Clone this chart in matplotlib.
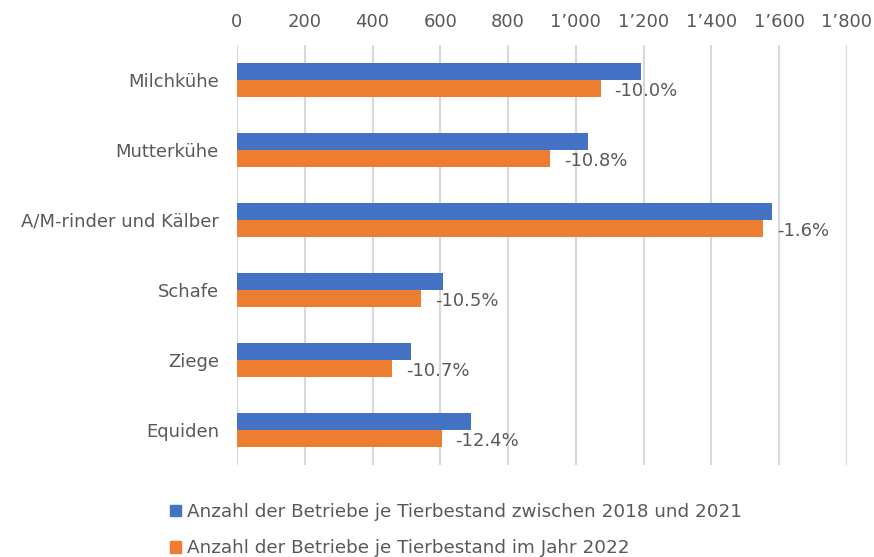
import matplotlib.pyplot as plt
from matplotlib.patches import Patch
from matplotlib.ticker import FuncFormatter
import numpy as np

kategorien = ["Milchkühe", "Mutterkühe", "A/M-rinder und Kälber", "Schafe", "Ziege", "Equiden"]
betriebe_2018_2021 = [1192, 1036, 1579, 608, 513, 690]
betriebe_2022 = [1073, 924, 1553, 544, 458, 604]
veraenderung = ["-10.0%", "-10.8%", "-1.6%", "-10.5%", "-10.7%", "-12.4%"]
x_ticks = [0, 200, 400, 600, 800, 1000, 1200, 1400, 1600, 1800]

blau = "#4472C4"
orange = "#ED7D31"
grau = "#595959"

plt.rcParams['font.family'] = ['DejaVu Sans']

fig = plt.figure(figsize=(8.74, 5.57), dpi=100)
ax = fig.add_axes([237 / 874, 1 - 465 / 557, 610 / 874, 420 / 557])

y = np.arange(len(kategorien))
h = 0.245
ax.barh(y - h / 2, betriebe_2018_2021, height=h, color=blau, zorder=3)
ax.barh(y + h / 2, betriebe_2022, height=h, color=orange, zorder=3)

# Veränderung neben dem orangen Balken
for i, wert in enumerate(betriebe_2022):
    ax.annotate(veraenderung[i], (wert, y[i] + h / 2), xytext=(10, -2),
                textcoords="offset points", va="center", ha="left",
                fontsize=13, color=grau)

ax.set_xlim(0, 1800)
ax.set_ylim(len(kategorien) - 0.5, -0.5)
ax.set_xticks(x_ticks)
ax.xaxis.set_major_formatter(FuncFormatter(lambda v, p: f"{int(v):,}".replace(",", "\u2019")))
ax.xaxis.tick_top()
ax.set_yticks(y)
ax.set_yticklabels(kategorien)
ax.tick_params(axis="x", length=0, pad=10, labelsize=13, labelcolor=grau)
ax.tick_params(axis="y", length=0, pad=13, labelsize=13, labelcolor=grau)
ax.grid(axis="x", color="#D9D9D9", linewidth=1.5, zorder=0)
for s in ax.spines.values():
    s.set_visible(False)

handles = [Patch(color=blau), Patch(color=orange)]
labels = ["Anzahl der Betriebe je Tierbestand zwischen 2018 und 2021",
          "Anzahl der Betriebe je Tierbestand im Jahr 2022"]
leg = fig.legend(handles, labels, loc="upper left", bbox_to_anchor=(170 / 874, 1 - 503 / 557),
                 frameon=False, fontsize=13.2, handlelength=0.62, handleheight=0.62,
                 handletextpad=0.3, labelspacing=1.0, borderpad=0, borderaxespad=0)
for t in leg.get_texts():
    t.set_color(grau)

fig.savefig("out.png", dpi=100)
